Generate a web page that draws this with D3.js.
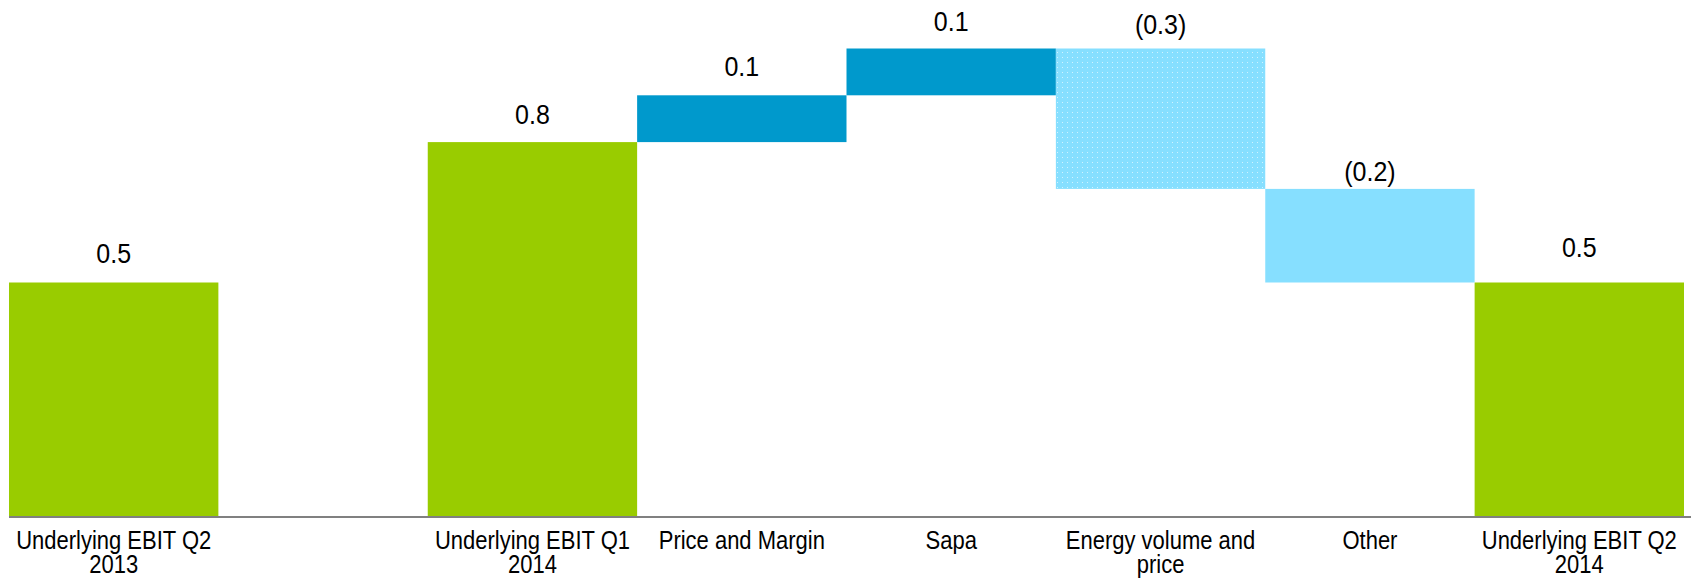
<!DOCTYPE html>
<html>
<head>
<meta charset="utf-8">
<script src="https://cdn.jsdelivr.net/npm/d3@7"></script>
<style>
  html, body { margin: 0; padding: 0; background: #fff; }
  svg { display: block; }
  text { font-family: "Liberation Sans", Arial, sans-serif; fill: #000; }
</style>
</head>
<body>
<script>
// Underlying EBIT bridge, NOK billion
const categories = [
  "Underlying EBIT Q2\n2013",
  "",
  "Underlying EBIT Q1\n2014",
  "Price and Margin",
  "Sapa",
  "Energy volume and\nprice",
  "Other",
  "Underlying EBIT Q2\n2014"
];
const values = [0.5, null, 0.8, 0.1, 0.1, -0.3, -0.2, 0.5];
const kinds  = ["total", "gap", "total", "up", "up", "down", "down", "total"];
const valueLabels = ["0.5", "", "0.8", "0.1", "0.1", "(0.3)", "(0.2)", "0.5"];

const W = 1691, H = 579;
const svg = d3.select("body").append("svg").attr("width", W).attr("height", H);

// dotted fill for the energy step
const defs = svg.append("defs");
const pat = defs.append("pattern")
  .attr("id", "dots").attr("patternUnits", "userSpaceOnUse")
  .attr("width", 5).attr("height", 5);
pat.append("rect").attr("width", 5).attr("height", 5).attr("fill", "#86DFFF");
pat.append("rect").attr("x", 2).attr("y", 2).attr("width", 1).attr("height", 1).attr("fill", "#D2F3FF");

const x = d3.scaleBand().domain(d3.range(categories.length)).range([9, 1684]).padding(0);
const y = d3.scaleLinear().domain([0, 1]).range([516.5, 48.5]);

// running totals for the waterfall
let running = 0;
const steps = values.map((v, i) => {
  if (kinds[i] === "gap") return null;
  let lo, hi;
  if (kinds[i] === "total") { running = v; lo = 0; hi = v; }
  else { const start = running; running += v; lo = Math.min(start, running); hi = Math.max(start, running); }
  return { i, lo, hi, kind: kinds[i] };
}).filter(d => d);

const fills = { total: "#99CC00", up: "#0099CC", down: "#86DFFF" };

svg.append("g").selectAll("rect").data(steps).join("rect")
  .attr("x", d => x(d.i))
  .attr("width", x.bandwidth())
  .attr("y", d => y(d.hi))
  .attr("height", d => y(d.lo) - y(d.hi))
  .attr("fill", d => d.i === 5 ? "url(#dots)" : fills[d.kind]);

// value labels above each bar
const lift = [20, 0, 18, 19, 18, 15, 8, 26];
svg.append("g").selectAll("text").data(steps).join("text")
  .attr("transform", d => `translate(${x(d.i) + x.bandwidth() / 2},${y(d.hi) - lift[d.i]}) scale(1,1.08)`)
  .attr("text-anchor", "middle")
  .style("font-size", "25px")
  .text(d => valueLabels[d.i]);

// category axis
const axis = svg.append("g").attr("transform", `translate(0,${y(0)})`)
  .call(d3.axisBottom(x).tickSize(0).tickFormat(""));
axis.select(".domain").attr("stroke", "#808080").attr("stroke-width", 2)
  .attr("d", `M9,0.5H${W}`);

// two-line category names, one text element per category
const ticks = svg.append("g").selectAll("text")
  .data(categories.map((c, i) => ({ c, i })).filter(d => d.c))
  .join("text")
  .attr("transform", d => `translate(${x(d.i) + x.bandwidth() / 2},549) scale(1,1.15)`)
  .attr("text-anchor", "middle")
  .style("font-size", "22px");
ticks.selectAll("tspan").data(d => d.c.split("\n")).join("tspan")
  .attr("x", 0)
  .attr("dy", (l, k) => k === 0 ? 0 : 21.2)
  .text(l => l);
</script>
</body>
</html>
